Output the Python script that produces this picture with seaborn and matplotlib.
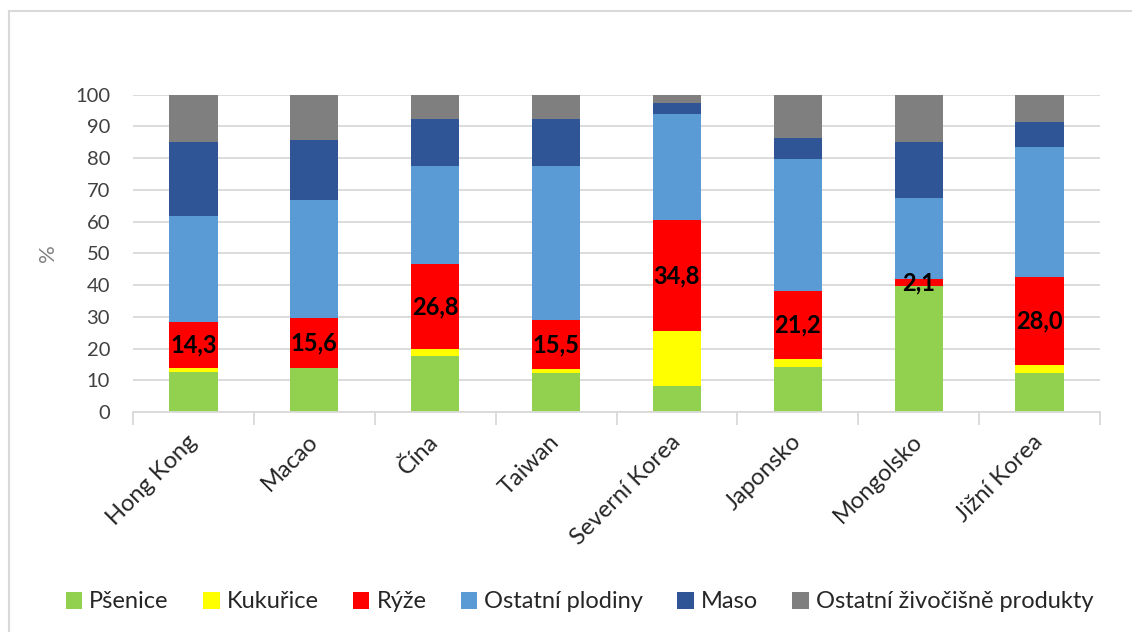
import numpy as np
import pandas as pd
import matplotlib
matplotlib.use("Agg")
import matplotlib.pyplot as plt
from matplotlib.patches import Patch, Rectangle
import seaborn as sns

countries = ["Hong Kong", "Macao", "Čína", "Taiwan", "Severní Korea", "Japonsko", "Mongolsko", "Jižní Korea"]
series_names = ["Pšenice", "Kukuřice", "Rýže", "Ostatní plodiny", "Maso", "Ostatní živočišně produkty"]
psenice = [12.6, 14.0, 17.7, 12.2, 8.1, 14.3, 39.7, 12.3]
kukurice = [1.4, 0.0, 2.0, 1.3, 17.5, 2.5, 0.0, 2.4]
ryze = [14.3, 15.6, 26.8, 15.5, 34.8, 21.2, 2.1, 28.0]
ostatni_plodiny = [33.5, 37.2, 31.1, 48.6, 33.5, 41.7, 25.8, 40.7]
maso = [23.4, 18.8, 14.6, 14.6, 3.6, 6.6, 17.5, 8.0]
ostatni_zivocisne = [14.8, 14.4, 7.8, 7.8, 2.5, 13.7, 14.9, 8.6]
colors = ["#92D050", "#FFFF00", "#FF0000", "#5B9BD5", "#2F5597", "#7F7F7F"]
y_ticks = [0, 10, 20, 30, 40, 50, 60, 70, 80, 90, 100]

sns.set_theme(style="white")
plt.rcParams["font.family"] = ["Lato", "DejaVu Sans"]

series = [psenice, kukurice, ryze, ostatni_plodiny, maso, ostatni_zivocisne]
cum = np.zeros(len(countries))
cums = []
for s in series:
    cum = cum + np.array(s)
    cums.append(cum.copy())

fig = plt.figure(figsize=(11.32, 6.32), dpi=100)
ax = fig.add_axes([133/1132, 1-412/632, (1100-133)/1132, (412-94.7)/632])

# draw cumulative totals from top to bottom so that each layer overlays the previous
for k in range(len(series) - 1, -1, -1):
    d = pd.DataFrame({"country": countries, "value": cums[k]})
    sns.barplot(data=d, x="country", y="value", color=colors[k], width=0.4,
                saturation=1, ax=ax, linewidth=0, order=countries)

# data labels for rice
for i in range(len(countries)):
    base = cums[1][i]
    v = ryze[i]
    ax.text(i, base + v / 2, f"{v:.1f}".replace(".", ","), ha="center", va="center",
            fontsize=17, fontweight="bold", color="black")

ax.set_ylim(0, 100)
ax.set_xlim(-0.5, len(countries) - 0.5)
ax.set_yticks(y_ticks)
ax.yaxis.grid(True, color="#D9D9D9", linewidth=1.3)
ax.set_axisbelow(True)
for sp in ["top", "right", "left"]:
    ax.spines[sp].set_visible(False)
ax.spines["bottom"].set_color("#D9D9D9")
ax.spines["bottom"].set_linewidth(1.3)
ax.tick_params(axis="y", length=0, labelsize=14.5, labelcolor="#404040", pad=16.5)
ax.set_xticks(np.arange(len(countries)))
ax.set_xticklabels(countries, rotation=45, ha="right", va="center", rotation_mode="anchor",
                   fontsize=17, color="#262626")
ax.tick_params(axis="x", which="major", length=0, pad=19)
ax.set_xticks(np.arange(-0.5, len(countries), 1.0), minor=True)
ax.tick_params(axis="x", which="minor", length=9, color="#D9D9D9", width=1.3, bottom=True)
ax.set_xlabel("")
ax.set_ylabel("%", fontsize=16, color="#808080", labelpad=12)

handles = [Patch(facecolor=c, edgecolor="none", label=n) for c, n in zip(colors, series_names)]
fig.legend(handles=handles, loc="center", bbox_to_anchor=(0.512, 1-602/632), ncol=6,
           frameon=False, fontsize=17, handlelength=0.7, handleheight=0.7,
           handletextpad=0.3, columnspacing=1.45, labelcolor="#262626")

fig.patches.append(Rectangle((9/1132, -0.1), 1.2, 1.1 - 11/632, transform=fig.transFigure,
                             fill=False, edgecolor="#D9D9D9", linewidth=1.5))

fig.savefig("out.png", dpi=100, facecolor="white")
